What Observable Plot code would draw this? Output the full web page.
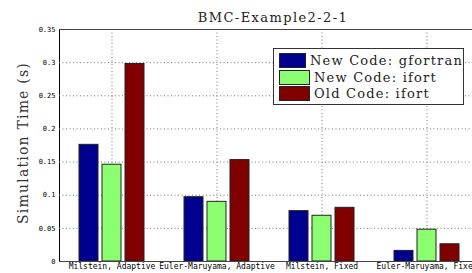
<!DOCTYPE html>
<html>
<head>
<meta charset="utf-8">
<script src="https://cdn.jsdelivr.net/npm/d3@7"></script>
<script src="https://cdn.jsdelivr.net/npm/@observablehq/plot@0.6"></script>
<style>
  html, body { margin: 0; padding: 0; background: #fff; }
  #wrap { position: relative; width: 472px; height: 273px; overflow: hidden; }
  #title { position: absolute; left: 0; width: 546px; top: 10px; text-align: center;
           font-family: "DejaVu Serif", serif; font-size: 13px; letter-spacing: 1.4px; color: #222; }
  #ylab { position: absolute; left: 23px; top: 143px; transform: translate(-50%, -50%) rotate(-90deg);
          white-space: nowrap; font-family: "DejaVu Serif", serif; font-size: 14px; letter-spacing: 1.2px; color: #333; }
  #legend { position: absolute; left: 273px; top: 48px; width: 191px; height: 57px;
            border: 1px solid #333; background: #fff; box-sizing: border-box; padding: 3px 0 0 5px; }
  .item { display: flex; align-items: center; height: 16.8px; font-family: "DejaVu Serif", serif;
          font-size: 13px; letter-spacing: 1.2px; color: #222; white-space: nowrap; }
  .sw { width: 31px; height: 15px; border: 1px solid #222; box-sizing: border-box; margin-right: 4px; }
</style>
</head>
<body>
<div id="wrap"></div>
<script>
const groups = ["Milstein, Adaptive", "Euler-Maruyama, Adaptive", "Milstein, Fixed", "Euler-Maruyama, Fixed"];
const series = ["New Code: gfortran", "New Code: ifort", "Old Code: ifort"];
const gfortranNew = [0.176, 0.097, 0.076, 0.016];
const ifortNew = [0.146, 0.090, 0.069, 0.048];
const ifortOld = [0.298, 0.153, 0.081, 0.026];
const colors = ["#00008f", "#8cff70", "#800000"];
const yTicks = [0, 0.05, 0.1, 0.15, 0.2, 0.25, 0.3, 0.35];
const yGrid = [0.05, 0.1, 0.15, 0.2, 0.25, 0.3];
const titleText = "BMC-Example2-2-1";
const yLabel = "Simulation Time (s)";

const valuesBySeries = [gfortranNew, ifortNew, ifortOld];
const rows = [];
groups.forEach((g, gi) => series.forEach((s, si) => rows.push({group: g, series: s, value: valuesBySeries[si][gi]})));

const plot = Plot.plot({
  width: 472,
  height: 273,
  marginLeft: 58,
  marginRight: -7,
  marginTop: 29,
  marginBottom: 12,
  style: {background: "transparent"},
  fx: {domain: groups, padding: 0, axis: "bottom", label: null, tickSize: 0, tickPadding: 2},
  x: {domain: series, axis: null, paddingInner: 0.185, paddingOuter: 0.846},
  y: {domain: [0, 0.35], ticks: yTicks, tickFormat: d => String(+d.toFixed(2)), tickSize: 0, tickPadding: 4, label: null, line: true},
  color: {domain: series, range: colors},
  marks: [
    Plot.ruleY(yGrid, {stroke: "#777", strokeOpacity: 1, strokeDasharray: "1,2.5", strokeWidth: 1}),
    Plot.ruleX([series[1]], {stroke: "#777", strokeOpacity: 1, strokeDasharray: "1,2.5", strokeWidth: 1}),
    Plot.barY(rows, {fx: "group", x: "series", y: "value", fill: "series", stroke: "#222", strokeWidth: 1, inset: 0}),
    Plot.ruleY([0.35], {stroke: "#444", strokeWidth: 1}),
    Plot.ruleY([0], {stroke: "#444", strokeWidth: 1})
  ]
});
plot.style.fontFamily = "'DejaVu Sans Mono', monospace";
d3.select(plot).selectAll("g[aria-label='y-axis tick label'] text, g[aria-label='y-axis'] text").style("font-size", "7px");
d3.select(plot).selectAll("g[aria-label='fx-axis tick label'] text, g[aria-label='fx-axis'] text").style("font-size", "8px");

const wrap = document.getElementById("wrap");
wrap.appendChild(plot);
plot.style.position = "absolute";
plot.style.left = "0";
plot.style.top = "0";

const t = document.createElement("div"); t.id = "title"; t.textContent = titleText; wrap.appendChild(t);
const yl = document.createElement("div"); yl.id = "ylab"; yl.textContent = yLabel; wrap.appendChild(yl);
const lg = document.createElement("div"); lg.id = "legend";
series.forEach((s, i) => {
  const it = document.createElement("div"); it.className = "item";
  const sw = document.createElement("div"); sw.className = "sw"; sw.style.background = colors[i];
  const tx = document.createElement("span"); tx.textContent = s;
  it.appendChild(sw); it.appendChild(tx); lg.appendChild(it);
});
wrap.appendChild(lg);
</script>
</body>
</html>
